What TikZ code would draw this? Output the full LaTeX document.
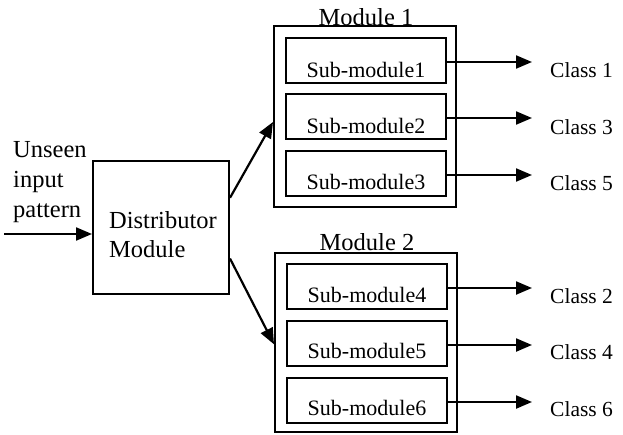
\documentclass[tikz,border=0pt]{standalone}
\usepackage{fontspec}
\setmainfont{Liberation Serif}
\usetikzlibrary{arrows.meta,calc}

\tikzset{
  box/.style={draw, line width=2pt, rectangle, inner sep=0pt},
  subbox/.style={box, minimum width=160pt, minimum height=45pt},
  modbox/.style={box, minimum width=182pt},
  txt/.style={inner sep=0pt, font=\fontsize{24.5}{29}\selectfont},
  subtxt/.style={inner sep=0pt, anchor=base, font=\fontsize{22}{26}\selectfont},
  classtxt/.style={inner sep=0pt, anchor=base west, font=\fontsize{21.5}{26}\selectfont},
  flow/.style={line width=2.2pt, -{Triangle[length=16pt,width=13pt]}},
}

\begin{document}
\begin{tikzpicture}[x=1pt,y=-1pt]
  \useasboundingbox (0,0) rectangle (623,434);

  % distributor and its input
  \node[box, minimum width=136pt, minimum height=133pt] (dist) at (161,227.5) {};
  \node[txt, anchor=base west] (dl1) at (109,228) {Distributor};
  \node[txt, anchor=base west] (dl2) at (109,257) {Module};
  \node[txt, anchor=base west] (in1) at (13,157) {Unseen};
  \node[txt, anchor=base west] (in2) at (13,187) {input};
  \node[txt, anchor=base west] (in3) at (13,217) {pattern};
  \coordinate (src) at (4,234);
  \draw[flow] (src) -- (src -| dist.west);

  % module containers
  \node[modbox, minimum height=181pt] (m1) at (365,116.5) {};
  \node[modbox, minimum height=179pt] (m2) at (366,342.5) {};
  \node[txt, anchor=base] (m1l) at (366,25) {Module 1};
  \node[txt, anchor=base] (m2l) at (367,250) {Module 2};

  % routing from distributor to modules
  \draw[flow] ($(dist.north east)!0.28!(dist.south east)$) -- ($(m1.north west)!0.53!(m1.south west)$);
  \draw[flow] ($(dist.north east)!0.73!(dist.south east)$) -- ($(m2.north west)!0.51!(m2.south west)$);

  % sub-modules, their outputs and classes
  \foreach \n/\cx/\cy/\by/\cls/\clsy in {
      1/366/60.5/77/1/77,
      2/366/116.5/133/3/134,
      3/366/173.5/189/5/190,
      4/367/286.5/302/2/303,
      5/367/343.5/358/4/359,
      6/367/400.5/415/6/416} {
    \node[subbox] (s\n) at (\cx,\cy) {};
    \node[subtxt] (st\n) at (\cx,\by) {Sub-module\n};
    \node[classtxt] (c\n) at (550,\clsy) {Class \cls};
    \coordinate (o\n) at ($(s\n.east)+(0,1.5)$);
    \draw[flow, shorten >=18pt] (o\n) -- (o\n -| c\n.west);
  }
\end{tikzpicture}
\end{document}
